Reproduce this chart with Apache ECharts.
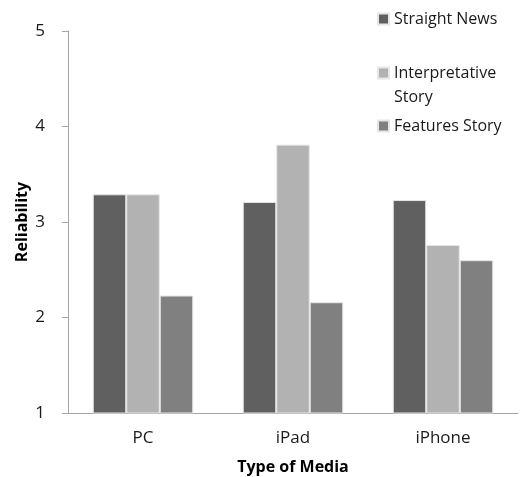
<!DOCTYPE html>
<html>
<head>
<meta charset="utf-8">
<script src="https://cdn.jsdelivr.net/npm/echarts@6/dist/echarts.min.js"></script>
<style>
    html, body { margin: 0; padding: 0; background: #fff; }
    #main { width: 521px; height: 477px; }
</style>
</head>
<body>
<div id="main"></div>
<script>
var categories = ['PC', 'iPad', 'iPhone'];
var straightNews = [3.29, 3.21, 3.23];
var interpretativeStory = [3.29, 3.81, 2.76];
var featuresStory = [2.23, 2.16, 2.60];
var yTicks = { min: 1, max: 5, interval: 1 };

~function () {
    var myChart = echarts.init(document.getElementById('main'));
    var font = 'Open Sans';
    var legendText = { fontFamily: font, fontSize: 16, color: '#1a1a1a' };
    var barStyle = function (c) {
        return { color: c, borderColor: '#e6e6e6', borderWidth: 1 };
    };

    var option = {
        animation: false,
        textStyle: { fontFamily: font },
        legend: [
            {
                left: 377, top: 11, padding: 0, orient: 'vertical',
                itemWidth: 11, itemHeight: 11,
                icon: 'rect',
                textStyle: legendText,
                data: ['Straight News']
            },
            {
                // blank first line so the icon sits beside "Interpretative"
                left: 377, top: 37, padding: 0, orient: 'vertical',
                itemWidth: 11, itemHeight: 11,
                icon: 'rect',
                formatter: ' \nInterpretative\nStory',
                textStyle: Object.assign({}, legendText, { lineHeight: 24 }),
                data: ['Interpretative Story']
            },
            {
                left: 377, top: 118, padding: 0, orient: 'vertical',
                itemWidth: 11, itemHeight: 11,
                icon: 'rect',
                textStyle: legendText,
                data: ['Features Story']
            }
        ],
        grid: {
            left: 68,
            right: 3,
            top: 31,
            bottom: 64,
            outerBoundsMode: 'none'
        },
        xAxis: {
            type: 'category',
            data: categories,
            name: 'Type of Media',
            nameLocation: 'middle',
            nameGap: 46,
            nameTextStyle: { fontFamily: font, fontSize: 16, fontWeight: 'bold', color: '#000' },
            axisLine: { lineStyle: { color: '#a6a6a6' } },
            axisTick: { show: false },
            axisLabel: { margin: 17, fontFamily: font, fontSize: 17, color: '#1a1a1a' }
        },
        yAxis: {
            type: 'value',
            min: yTicks.min,
            max: yTicks.max,
            interval: yTicks.interval,
            name: 'Reliability',
            nameLocation: 'middle',
            nameGap: 38,
            nameMoveOverlap: false,
            nameTextStyle: { fontFamily: font, fontSize: 16, fontWeight: 'bold', color: '#000' },
            axisLine: { show: true, lineStyle: { color: '#a6a6a6' } },
            axisTick: { show: true, length: 6, lineStyle: { color: '#a6a6a6' } },
            splitLine: { show: false },
            axisLabel: { margin: 23, fontFamily: font, fontSize: 17, color: '#1a1a1a' }
        },
        series: [
            {
                name: 'Straight News',
                type: 'bar',
                barGap: 0,
                barCategoryGap: '33%',
                itemStyle: barStyle('#606060'),
                data: straightNews
            },
            {
                name: 'Interpretative Story',
                type: 'bar',
                itemStyle: barStyle('#b2b2b2'),
                data: interpretativeStory
            },
            {
                name: 'Features Story',
                type: 'bar',
                itemStyle: barStyle('#808080'),
                data: featuresStory
            }
        ]
    };
    myChart.setOption(option);
}();
</script>
</body>
</html>
